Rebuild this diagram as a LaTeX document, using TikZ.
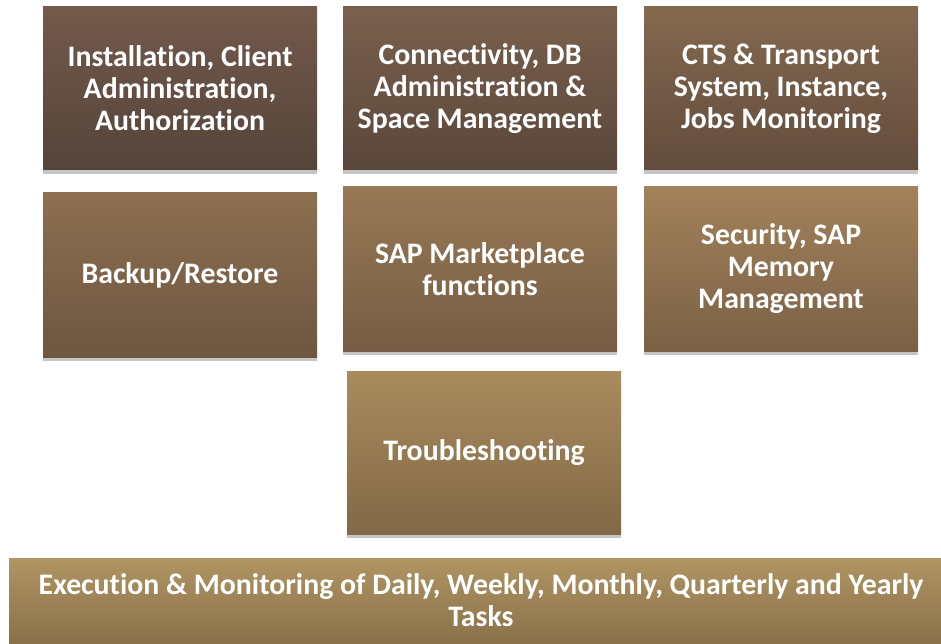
\documentclass[tikz,border=0pt]{standalone}
\usepackage{fontspec}
\setmainfont{Carlito}[Ligatures=NoCommon]
\usetikzlibrary{shadows}
\begin{document}
\begin{tikzpicture}[x=1pt,y=-1pt,
  tile/.style={draw=none, inner sep=0pt, align=center, text=white,
    font=\fontsize{29.8}{32}\selectfont\bfseries,
    drop shadow={shadow xshift=0pt, shadow yshift=-4pt, fill=black!45, opacity=0.5}},
]
\useasboundingbox (0,0) rectangle (941,644);
\clip (0,0) rectangle (941,644);
\newcommand\tile[8]{%
  \node[tile, top color=#6, bottom color=#7, minimum width=#3-#1, minimum height=#4-#2]
    (#5) at ({(#1+#3)/2},{(#2+#4)/2}) {#8};}
\definecolor{tA}{HTML}{735A4C}\definecolor{bA}{HTML}{55443A}
\definecolor{tB}{HTML}{7A604E}\definecolor{bB}{HTML}{5A473B}
\definecolor{tC}{HTML}{85694F}\definecolor{bC}{HTML}{624C3D}
\definecolor{tD}{HTML}{8D6F51}\definecolor{bD}{HTML}{6E5641}
\definecolor{tE}{HTML}{987955}\definecolor{bE}{HTML}{765C44}
\definecolor{tF}{HTML}{A2825A}\definecolor{bF}{HTML}{7B6046}
\definecolor{tG}{HTML}{A98B5D}\definecolor{bG}{HTML}{826846}
\definecolor{tH}{HTML}{B09463}\definecolor{bH}{HTML}{8A7149}
\tile{43}{7}{317}{170}{install}{tA}{bA}{Installation, Client\\Administration,\\Authorization}
\tile{343}{7}{617}{170}{connect}{tB}{bB}{Connectivity, DB\\Administration \&\\Space Management}
\tile{644}{7}{918}{170}{cts}{tC}{bC}{CTS \& Transport\\System, Instance,\\Jobs Monitoring}
\tile{43}{193}{317}{357}{backup}{tD}{bD}{Backup/Restore}
\tile{343}{187}{617}{351}{market}{tE}{bE}{SAP Marketplace\\functions}
\tile{644}{187}{918}{351}{security}{tF}{bF}{Security, SAP\\Memory\\Management}
\tile{347}{371}{621}{534}{trouble}{tG}{bG}{Troubleshooting}
\tile{9}{558}{953}{643}{exec}{tH}{bH}{Execution \& Monitoring of Daily, Weekly, Monthly, Quarterly and Yearly\\Tasks}
\end{tikzpicture}
\end{document}
